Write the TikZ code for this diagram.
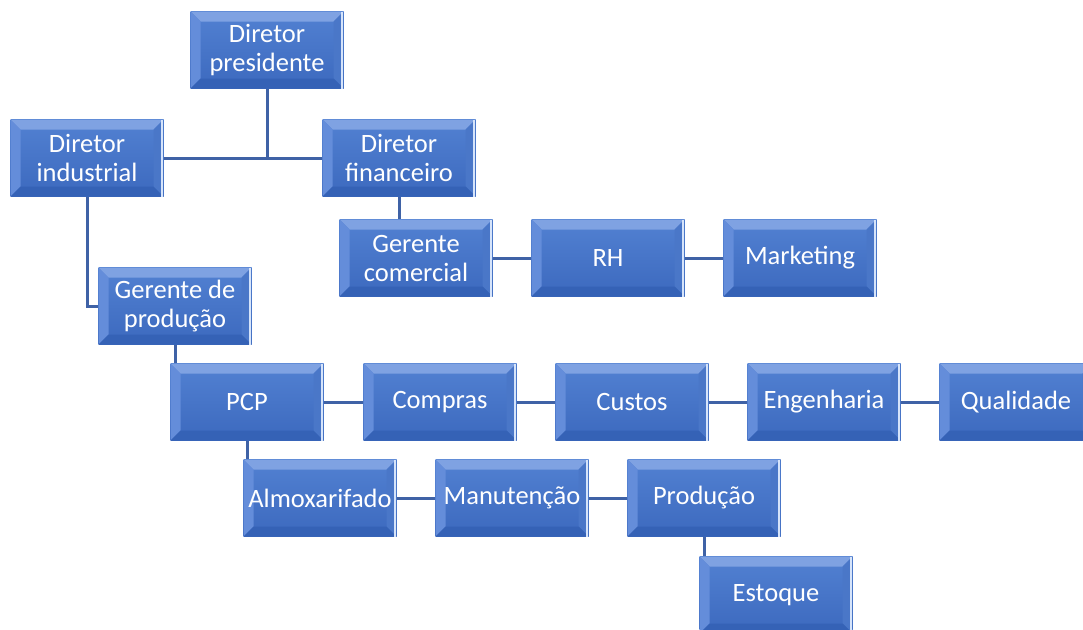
\documentclass[tikz,border=0pt]{standalone}
\usepackage{fontspec}
\setmainfont{Carlito}
\usetikzlibrary{backgrounds}

\definecolor{facetop}{HTML}{5281D2}
\definecolor{facebot}{HTML}{3C69BE}
\definecolor{bevtop}{HTML}{7FA2E2}
\definecolor{bevleft}{HTML}{648DDA}
\definecolor{bevright}{HTML}{4A77C8}
\definecolor{bevbot}{HTML}{3562B6}
\definecolor{rimlight}{HTML}{D6E4FA}
\definecolor{linkblue}{HTML}{3F62A6}

\tikzset{
  unit/.style={rectangle, minimum width=153pt, minimum height=77pt, inner sep=0pt,
    align=center, text=white, font=\fontsize{26.5}{29}\selectfont,
    top color=facetop, bottom color=facebot,
    path picture={
      \coordinate (bnw) at (path picture bounding box.north west);
      \coordinate (bne) at (path picture bounding box.north east);
      \coordinate (bsw) at (path picture bounding box.south west);
      \coordinate (bse) at (path picture bounding box.south east);
      \fill[bevtop] (bnw) -- (bne) -- ([shift={(-10pt,-10pt)}]bne) -- ([shift={(10pt,-10pt)}]bnw) -- cycle;
      \fill[bevleft] (bnw) -- (bsw) -- ([shift={(10pt,10pt)}]bsw) -- ([shift={(10pt,-10pt)}]bnw) -- cycle;
      \fill[bevright] (bne) -- (bse) -- ([shift={(-10pt,10pt)}]bse) -- ([shift={(-10pt,-10pt)}]bne) -- cycle;
      \fill[bevbot] (bsw) -- (bse) -- ([shift={(-10pt,10pt)}]bse) -- ([shift={(10pt,10pt)}]bsw) -- cycle;
      \draw[rimlight, line width=2.5pt] ([xshift=-1.5pt]bne) -- ([xshift=-1.5pt]bse);
    }},
  link/.style={draw=linkblue, line width=3pt}
}

\begin{document}
\begin{tikzpicture}[x=1pt,y=-1pt]
  \useasboundingbox (0,0) rectangle (1083,629);

  % direction
  \node[unit] (pres) at (267,50) {Diretor\\presidente};
  \node[unit] (ind) at (87,158) {Diretor\\industrial};
  \node[unit] (fin) at (399,158) {Diretor\\financeiro};

  % area comercial
  \node[unit] (gcom) at (416,258) {Gerente\\comercial};
  \node[unit] (rh) at (608,258) {RH};
  \node[unit] (mkt) at (800,258) {Marketing};

  % area industrial
  \node[unit] (gprod) at (175,306) {Gerente de\\produção};
  \node[unit] (pcp) at (247,402) {PCP};
  \node[unit] (compras) at (440,402) {Compras};
  \node[unit] (custos) at (632,402) {Custos};
  \node[unit] (eng) at (824,402) {Engenharia};
  \node[unit] (qual) at (1016,402) {Qualidade};
  \node[unit] (almox) at (320,498) {Almoxarifado};
  \node[unit] (manut) at (512,498) {Manutenção};
  \node[unit] (prod) at (704,498) {Produção};
  \node[unit] (estoque) at (776,595) {Estoque};

  \begin{scope}[on background layer]
    \draw[link] (pres.south) -- (pres.south |- ind.east);
    \draw[link] (ind.east) -- (fin.west);
    \draw[link] (ind.south) |- (gprod.west);
    \draw[link] (fin.south) -- (fin.south |- gcom.north);
    \draw[link] (gcom) -- (rh) -- (mkt);
    \draw[link] (gprod.south) |- (pcp.west);
    \draw[link] (pcp) -- (compras) -- (custos) -- (eng) -- (qual);
    \draw[link] (pcp.south) |- (almox.west);
    \draw[link] (almox) -- (manut) -- (prod);
    \draw[link] (prod.south) |- (estoque.west);
  \end{scope}
\end{tikzpicture}
\end{document}
